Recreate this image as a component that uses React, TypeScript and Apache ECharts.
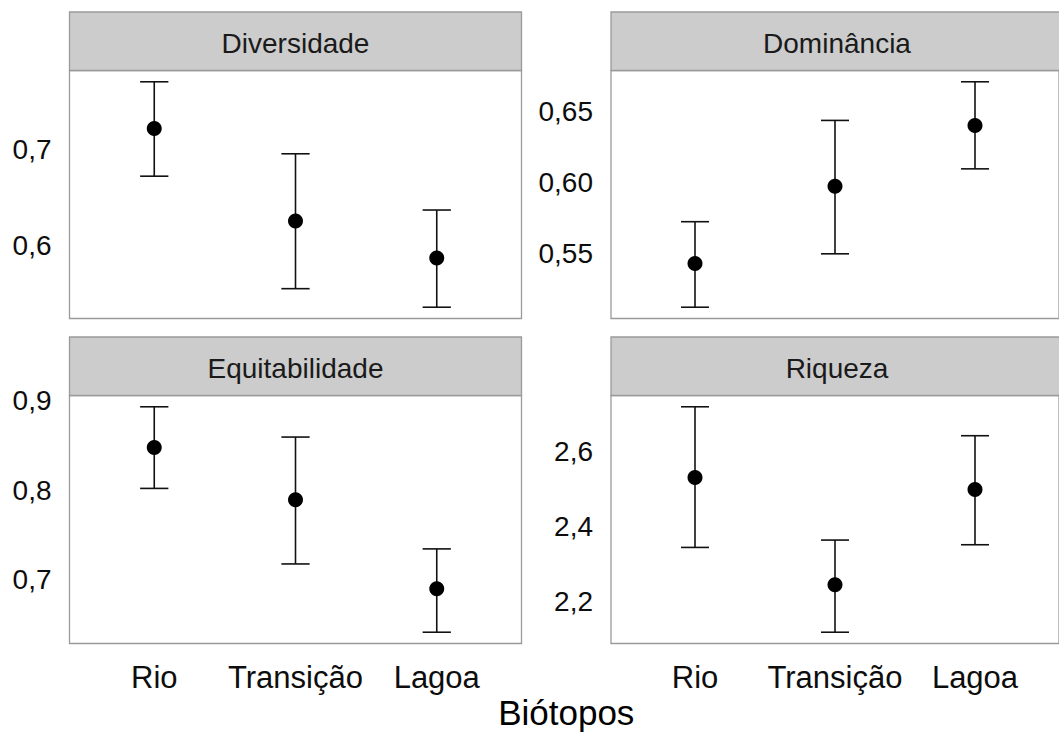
import React, { useEffect, useRef } from 'react';
import * as echarts from 'echarts';

// ---------- data ----------
const categories = ['Rio', 'Transição', 'Lagoa'];
const categoryPositions = [1, 2, 3];

const panelTitles = ['Diversidade', 'Dominância', 'Equitabilidade', 'Riqueza'];
const xAxisTitle = 'Biótopos';

const diversidadeMean = [0.7215, 0.6251, 0.5867];
const diversidadeLower = [0.6718, 0.5548, 0.5355];
const diversidadeUpper = [0.77, 0.6951, 0.6366];
const diversidadeTicks = [0.6, 0.7];

const dominanciaMean = [0.5429, 0.5973, 0.6401];
const dominanciaLower = [0.5121, 0.5497, 0.6095];
const dominanciaUpper = [0.5723, 0.6436, 0.6708];
const dominanciaTicks = [0.55, 0.6, 0.65];

const equitabilidadeMean = [0.8478, 0.7895, 0.69];
const equitabilidadeLower = [0.8021, 0.7178, 0.6416];
const equitabilidadeUpper = [0.8932, 0.8594, 0.7346];
const equitabilidadeTicks = [0.7, 0.8, 0.9];

const riquezaMean = [2.5295, 2.2459, 2.4978];
const riquezaLower = [2.3445, 2.1198, 2.3516];
const riquezaUpper = [2.7172, 2.364, 2.6405];
const riquezaTicks = [2.2, 2.4, 2.6];

const tickDecimals = [1, 2, 1, 1];

// ---------- layout ----------
const FONT = 'Liberation Sans, Arial, Helvetica, sans-serif';
const PANEL_W = 452;
const PANEL_H = 248;
const STRIP_H = 58.5;
const LEFTS = [69.5, 611, 69.5, 611];
const TOPS = [70.5, 70.5, 395.5, 395.5];

const panels = [
  { mean: diversidadeMean, lower: diversidadeLower, upper: diversidadeUpper, ticks: diversidadeTicks },
  { mean: dominanciaMean, lower: dominanciaLower, upper: dominanciaUpper, ticks: dominanciaTicks },
  { mean: equitabilidadeMean, lower: equitabilidadeLower, upper: equitabilidadeUpper, ticks: equitabilidadeTicks },
  { mean: riquezaMean, lower: riquezaLower, upper: riquezaUpper, ticks: riquezaTicks },
];

function expandRange(lo: number[], hi: number[]) {
  const a = Math.min(...lo);
  const b = Math.max(...hi);
  const d = (b - a) * 0.05;
  return [a - d, b + d];
}

export default function App() {
  const ref = useRef<HTMLDivElement>(null);

  useEffect(() => {
    document.body.style.margin = '0';
    if (!ref.current) return;
    const chart = echarts.init(ref.current, undefined, { renderer: 'svg' });

    const grid: any[] = [];
    const xAxis: any[] = [];
    const yAxis: any[] = [];
    const series: any[] = [];
    const graphic: any[] = [];

    panels.forEach((p, i) => {
      const isBottom = i >= 2;
      grid.push({
        left: LEFTS[i],
        top: TOPS[i],
        width: PANEL_W,
        height: PANEL_H,
        show: true,
        backgroundColor: '#ffffff',
        borderColor: '#9a9a9a',
        borderWidth: 1.3,
        containLabel: false,
      });
      xAxis.push({
        type: 'value',
        gridIndex: i,
        min: 0.4,
        max: 3.6,
        axisLine: { show: false },
        axisTick: { show: false },
        splitLine: { show: false },
        axisLabel: {
          show: isBottom,
          customValues: categoryPositions,
          margin: 18,
          fontSize: 31,
          color: '#0d0d0d',
          fontFamily: FONT,
          formatter: (v: number) => {
            const k = categoryPositions.findIndex((c) => Math.abs(c - v) < 1e-6);
            return k >= 0 ? categories[k] : '';
          },
        },
      });
      const [mn, mx] = expandRange(p.lower, p.upper);
      yAxis.push({
        type: 'value',
        gridIndex: i,
        min: mn,
        max: mx,
        axisLine: { show: false },
        axisTick: { show: false },
        splitLine: { show: false },
        axisLabel: {
          customValues: p.ticks,
          showMinLabel: true,
          showMaxLabel: true,
          margin: 18,
          fontSize: 28,
          color: '#0d0d0d',
          fontFamily: FONT,
          formatter: (v: number) => {
            const ok = p.ticks.some((t) => Math.abs(t - v) < 1e-6);
            return ok ? v.toFixed(tickDecimals[i]).replace('.', ',') : '';
          },
        },
      });
      series.push({
        type: 'custom',
        xAxisIndex: i,
        yAxisIndex: i,
        z: 2,
        encode: { x: 0, y: [1, 2] },
        data: categoryPositions.map((x, k) => [x, p.lower[k], p.upper[k]]),
        renderItem: (params: any, api: any) => {
          const x = api.value(0);
          const lo = api.coord([x, api.value(1)]);
          const hi = api.coord([x, api.value(2)]);
          const half = api.size([0.1, 0])[0];
          const st = { stroke: '#111111', lineWidth: 1.6 };
          return {
            type: 'group',
            children: [
              { type: 'line', shape: { x1: lo[0], y1: lo[1], x2: hi[0], y2: hi[1] }, style: st },
              { type: 'line', shape: { x1: lo[0] - half, y1: lo[1], x2: lo[0] + half, y2: lo[1] }, style: st },
              { type: 'line', shape: { x1: hi[0] - half, y1: hi[1], x2: hi[0] + half, y2: hi[1] }, style: st },
            ],
          };
        },
      });
      series.push({
        type: 'scatter',
        xAxisIndex: i,
        yAxisIndex: i,
        z: 3,
        symbol: 'circle',
        symbolSize: 15,
        itemStyle: { color: '#000000', opacity: 1 },
        emphasis: { disabled: true },
        data: categoryPositions.map((x, k) => [x, p.mean[k]]),
      });

      graphic.push({
        type: 'rect',
        shape: { x: LEFTS[i], y: TOPS[i] - STRIP_H, width: PANEL_W, height: STRIP_H },
        style: { fill: '#cccccc', stroke: '#9a9a9a', lineWidth: 1.3 },
        z: 10,
      });
      graphic.push({
        type: 'text',
        x: LEFTS[i] + PANEL_W / 2,
        y: TOPS[i] - STRIP_H / 2 + 2,
        style: {
          text: panelTitles[i],
          fontSize: 28,
          fontFamily: FONT,
          fill: '#1a1a1a',
          align: 'center',
          verticalAlign: 'middle',
        },
        z: 11,
      });
    });

    graphic.push({
      type: 'text',
      x: (LEFTS[0] + LEFTS[1] + PANEL_W) / 2,
      y: 712,
      style: {
        text: xAxisTitle,
        fontSize: 35,
        fontFamily: FONT,
        fill: '#000000',
        align: 'center',
        verticalAlign: 'middle',
      },
      z: 11,
    });

    chart.setOption({
      animation: false,
      backgroundColor: '#ffffff',
      textStyle: { fontFamily: FONT },
      grid,
      xAxis,
      yAxis,
      series,
      graphic,
    });

    return () => chart.dispose();
  }, []);

  return <div ref={ref} style={{ width: 1059, height: 734 }} />;
}
